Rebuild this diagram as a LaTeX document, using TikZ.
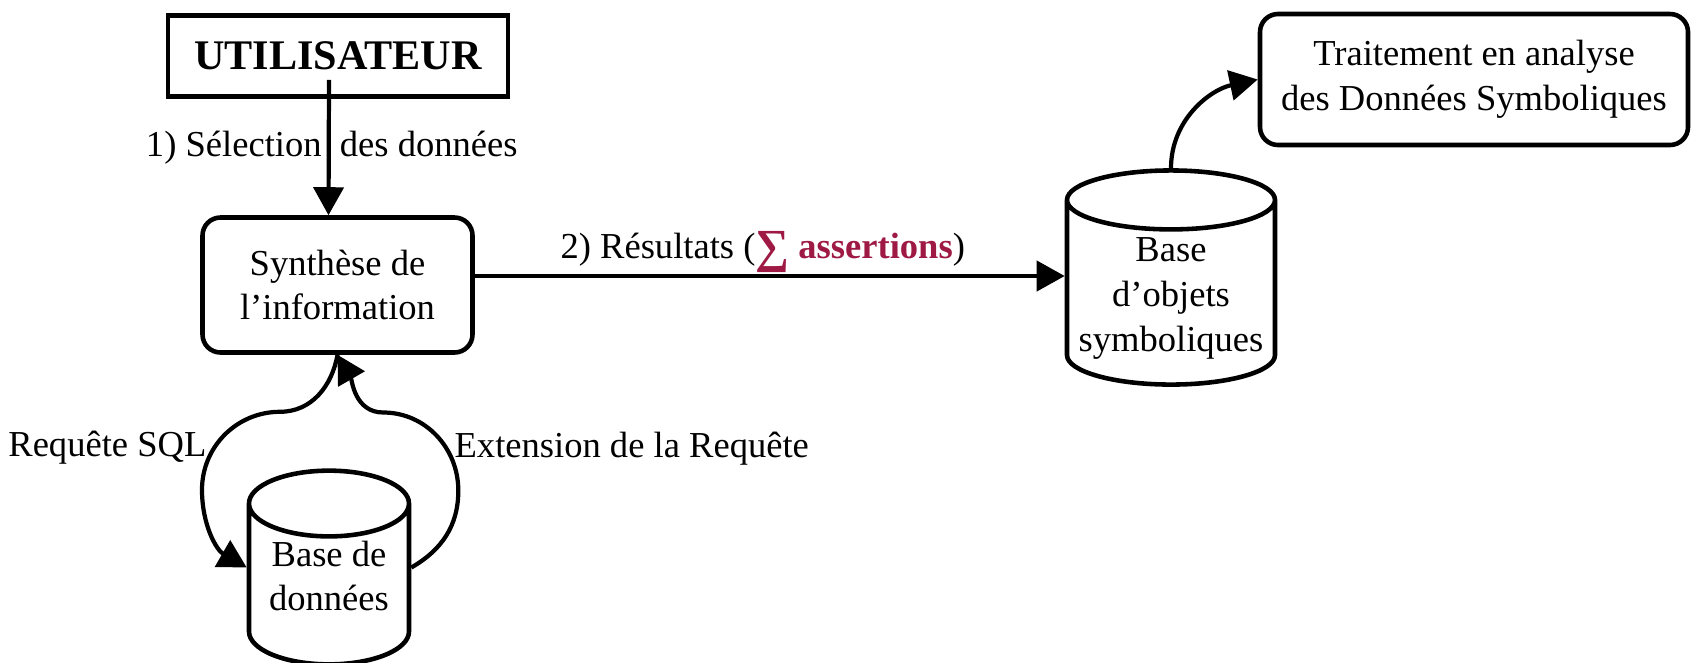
\documentclass[tikz,border=0pt]{standalone}
\usepackage{fontspec}
\setmainfont{Liberation Serif}
\usetikzlibrary{arrows.meta, positioning, shapes.geometric}
\definecolor{sigmared}{HTML}{9E1A45}
\tikzset{
    basefont/.style={font=\fontsize{20.8}{25.5}\selectfont},
    userbox/.style={rectangle, draw, line width=2.6pt, minimum width=6.8cm, minimum height=1.62cm, font=\fontsize{24}{28}\selectfont\bfseries},
    procbox/.style={rectangle, rounded corners=0.36cm, draw, line width=2.6pt, align=center, basefont},
    dbbox/.style={cylinder, shape border rotate=90, anchor=shape center, draw, line width=2.6pt, align=center, basefont},
    flow/.style={-{Triangle[length=0.56cm, width=0.6cm]}, line width=2.4pt},
    flowlabel/.style={basefont},
}
\begin{document}
\begin{tikzpicture}
\useasboundingbox (0,0) rectangle (33.9,-13.24);
% boxes
\node[userbox] (user) at (6.76,-1.12) {UTILISATEUR};
\node[procbox, minimum width=5.4cm, minimum height=2.7cm] (synth) at (6.75,-5.70) {Synthèse de\\l’information};
\node[procbox, minimum width=8.56cm, minimum height=2.62cm] (treat) at (29.48,-1.59) {Traitement en analyse\\des Données Symboliques};
% databases
\node[dbbox, minimum width=4.16cm, minimum height=4.2cm, aspect=0.3] (objbase) at (23.42,-5.55) {Base\\d’objets\\symboliques};
\node[dbbox, minimum width=3.2cm, minimum height=3.66cm, aspect=0.5, inner ysep=0.04cm, text depth=0.62cm] (dbbase) at (6.58,-11.35) {Base de\\données};
\coordinate (dbleft) at (dbbase.shape center -| dbbase.west);
\coordinate (dbright) at (dbbase.shape center -| dbbase.east);
% main flow
\draw[flow] ([xshift=-0.18cm, yshift=0.38cm]user.south) -- node[flowlabel, xshift=0.06cm] {1) Sélection\hspace{0.5em}des données} ([xshift=-0.18cm]synth.north);
\coordinate (resout) at ([yshift=0.18cm]synth.east);
\draw[flow] (resout) -- node[flowlabel, above, xshift=-0.14cm, yshift=-0.1cm] {2) Résultats ({\color{sigmared}\bfseries\raisebox{-0.12em}{\fontsize{27}{27}\selectfont ∑} assertions})} (objbase.west |- resout);
\draw[flow] (objbase.north) to[out=90, in=192] (treat.west);
% query loop
\draw[flow] (synth.south) to[out=-100, in=0] ++(-1.15,-1.14)
    to[out=180, in=90] node[flowlabel, pos=0.64, left] {Requête SQL} ++(-1.56,-1.56)
    to[out=-90, in=150] (dbleft);
\draw[flow] (dbright) to[out=30, in=-90] ++(0.94,1.54)
    to[out=90, in=0] node[flowlabel, pos=0.36, right] {Extension de la Requête} ++(-1.5,1.56)
    to[out=180, in=-60] (synth.south);
\end{tikzpicture}
\end{document}
